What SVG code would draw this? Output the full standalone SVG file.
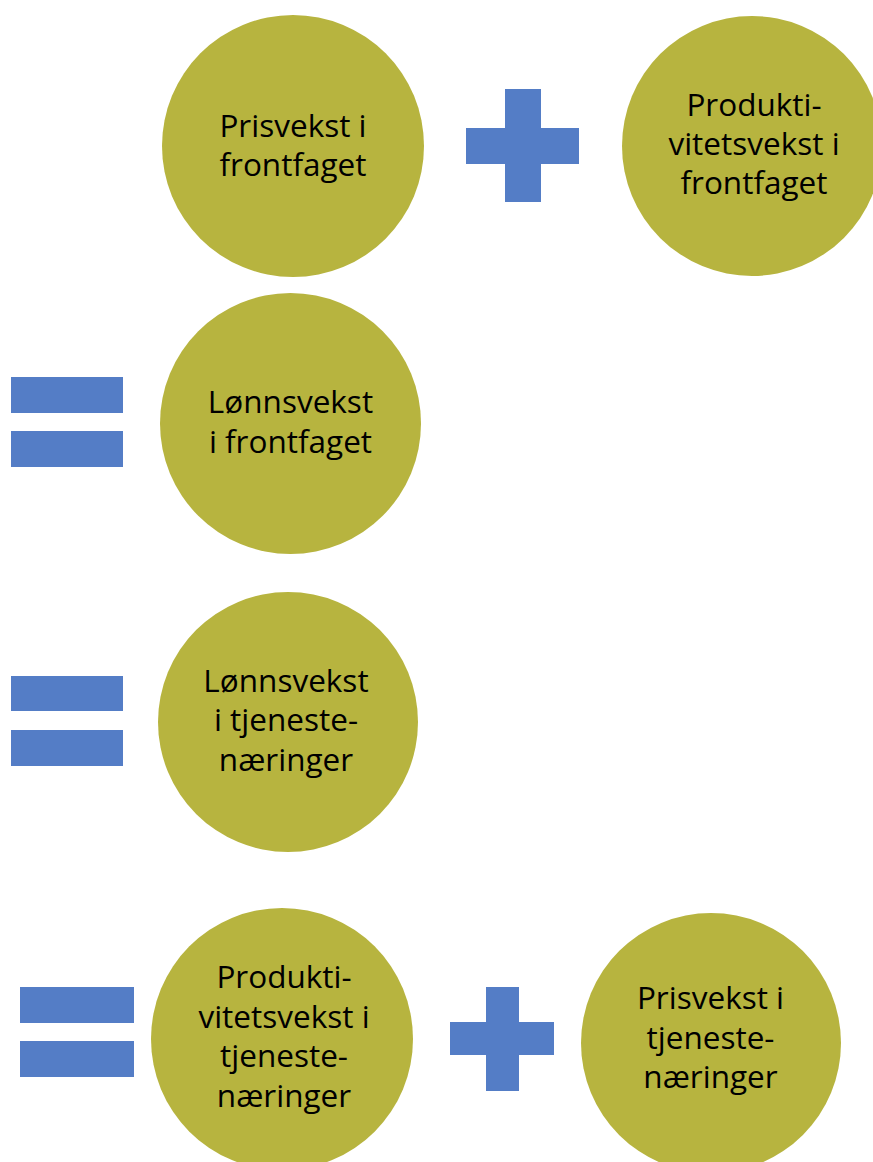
<svg xmlns="http://www.w3.org/2000/svg" width="873" height="1162" viewBox="0 0 873 1162">
<style>
.c{fill:#B7B43F}
.op{fill:#547DC6}
text{font-family:"Open Sans","Noto Sans","Liberation Sans",sans-serif;font-size:31.5px;fill:#000;text-anchor:middle}
</style>
<rect width="873" height="1162" fill="#fff"/>
<g id="operators">
<g id="plus1"><rect class="op" x="466" y="128" width="113" height="36"/><rect class="op" x="505" y="89" width="36" height="113"/></g>
<g id="eq1"><rect class="op" x="11" y="377" width="112" height="36"/><rect class="op" x="11" y="431" width="112" height="36"/></g>
<g id="eq2"><rect class="op" x="11" y="676" width="112" height="35"/><rect class="op" x="11" y="730" width="112" height="36"/></g>
<g id="eq3"><rect class="op" x="20" y="987" width="114" height="36"/><rect class="op" x="20" y="1041" width="114" height="36"/></g>
<g id="plus2"><rect class="op" x="450" y="1022" width="104" height="33"/><rect class="op" x="486" y="987" width="33" height="104"/></g>
</g>
<g id="n1"><circle class="c" cx="293" cy="146" r="131"/><text x="293" y="137">Prisvekst i</text><text x="293" y="176">frontfaget</text></g>
<g id="n2"><circle class="c" cx="752" cy="146" r="130"/><text x="754" y="116">Produkti-</text><text x="754" y="155">vitetsvekst i</text><text x="754" y="194">frontfaget</text></g>
<g id="n3"><circle class="c" cx="290.5" cy="423.5" r="130.5"/><text x="290.5" y="413">Lønnsvekst</text><text x="290.5" y="452.5">i frontfaget</text></g>
<g id="n4"><circle class="c" cx="288" cy="722" r="130"/><text x="286" y="691.5">Lønnsvekst</text><text x="286" y="731">i tjeneste-</text><text x="286" y="770.5">næringer</text></g>
<g id="n5"><circle class="c" cx="282" cy="1039" r="131"/><text x="284" y="988">Produkti-</text><text x="284" y="1027.5">vitetsvekst i</text><text x="284" y="1067">tjeneste-</text><text x="284" y="1106.5">næringer</text></g>
<g id="n6"><circle class="c" cx="711" cy="1043" r="130"/><text x="710.5" y="1009">Prisvekst i</text><text x="710.5" y="1048.5">tjeneste-</text><text x="710.5" y="1088">næringer</text></g>
</svg>
